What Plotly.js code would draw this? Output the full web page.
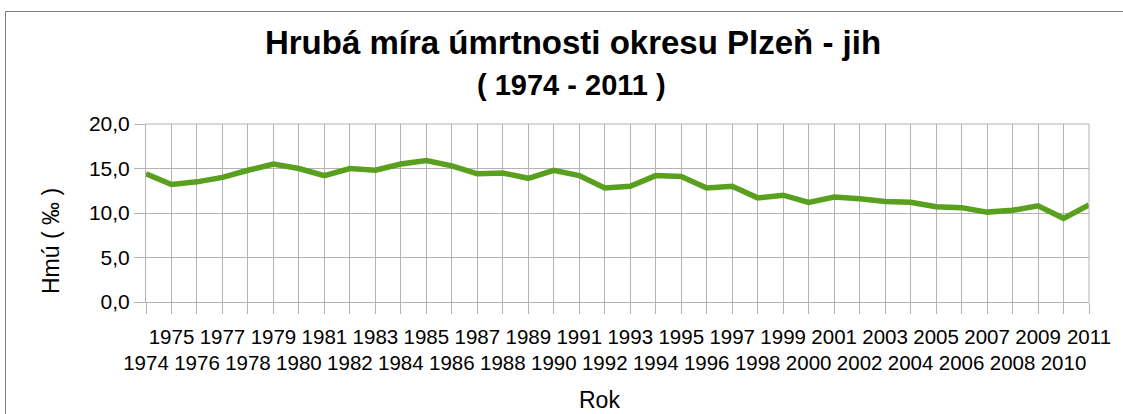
<!DOCTYPE html>
<html>
<head>
<meta charset="utf-8">
<script src="https://cdn.plot.ly/plotly-3.0.1.min.js"></script>
<style>
  html, body { margin: 0; padding: 0; background: #ffffff; }
  #chart { width: 1123px; height: 414px; }
</style>
</head>
<body>
<div id="chart"></div>
<script>
// Data
const years = [1974, 1975, 1976, 1977, 1978, 1979, 1980, 1981, 1982, 1983,
               1984, 1985, 1986, 1987, 1988, 1989, 1990, 1991, 1992, 1993,
               1994, 1995, 1996, 1997, 1998, 1999, 2000, 2001, 2002, 2003,
               2004, 2005, 2006, 2007, 2008, 2009, 2010, 2011];
const mortality = [14.4, 13.2, 13.5, 14.0, 14.8, 15.5, 15.0, 14.2, 15.0, 14.8,
                   15.5, 15.9, 15.3, 14.4, 14.5, 13.9, 14.8, 14.2, 12.8, 13.0,
                   14.2, 14.1, 12.8, 13.0, 11.7, 12.0, 11.2, 11.8, 11.6, 11.3,
                   11.2, 10.7, 10.6, 10.1, 10.3, 10.8, 9.4, 10.9];
const yTicks = [0, 5, 10, 15, 20];

const chartTitle = 'Hrubá míra úmrtnosti okresu Plzeň - jih';
const chartSubtitle = '( 1974 - 2011 )';
const xTitle = 'Rok';
const yTitle = 'Hmú ( ‰ )';

// staggered labels: odd years on first row, even years on second row
const tickText = years.map(y => (y % 2 === 1) ? String(y) : '<br>' + y);

const FONT = '"Liberation Sans", Arial, sans-serif';
const GRID = '#b3b3b3';

const trace = {
  x: years,
  y: mortality,
  type: 'scatter',
  mode: 'lines',
  line: { color: '#5aa01f', width: 5.5 },
  hoverinfo: 'x+y'
};

const layout = {
  width: 1123,
  height: 414,
  margin: { l: 146, r: 34, t: 124, b: 112 },
  paper_bgcolor: '#ffffff',
  plot_bgcolor: '#ffffff',
  separators: ', ',
  showlegend: false,
  font: { family: FONT, color: '#000000', size: 20.5 },
  title: {
    text: '<b>' + chartTitle + '</b>',
    font: { family: FONT, size: 33, color: '#000000' },
    xref: 'container', yref: 'container',
    x: 573 / 1123, xanchor: 'center',
    y: 1 - 42 / 414, yanchor: 'middle'
  },
  xaxis: {
    range: [1974, 2011],
    tickmode: 'array',
    tickvals: years,
    ticktext: tickText,
    tickangle: 0,
    showgrid: true,
    gridcolor: GRID,
    gridwidth: 1,
    showline: true,
    linecolor: GRID,
    linewidth: 1,
    ticks: 'outside',
    ticklen: 11,
    tickcolor: GRID,
    ticklabelstandoff: 5,
    tickfont: { family: FONT, size: 20.5, color: '#000000' },
    zeroline: false,
    mirror: false,
    fixedrange: true
  },
  yaxis: {
    range: [0, 20],
    tickmode: 'array',
    tickvals: yTicks,
    tickformat: '.1f',
    showgrid: true,
    gridcolor: GRID,
    gridwidth: 1,
    showline: true,
    linecolor: GRID,
    linewidth: 1,
    ticks: 'outside',
    ticklen: 11,
    tickcolor: GRID,
    tickfont: { family: FONT, size: 21, color: '#000000' },
    zeroline: false,
    fixedrange: true
  },
  annotations: [
    {
      text: '<b>' + chartSubtitle + '</b>',
      xref: 'paper', yref: 'paper',
      x: (571 - 146) / 943, y: (302 - 85) / 178,
      xanchor: 'center', yanchor: 'middle',
      showarrow: false,
      font: { family: FONT, size: 29, color: '#000000' }
    },
    {
      text: xTitle,
      xref: 'paper', yref: 'paper',
      x: (599 - 146) / 943, y: (302 - 400) / 178,
      xanchor: 'center', yanchor: 'middle',
      showarrow: false,
      font: { family: FONT, size: 23, color: '#000000' }
    },
    {
      text: yTitle,
      xref: 'paper', yref: 'paper',
      x: (51 - 146) / 943, y: (302 - 241) / 178,
      xanchor: 'center', yanchor: 'middle',
      textangle: -90,
      showarrow: false,
      font: { family: FONT, size: 23, color: '#000000' }
    }
  ],
  shapes: [
    // top gridline / right edge of the plot area
    { type: 'line', xref: 'paper', yref: 'paper', x0: 0, x1: 1, y0: 1, y1: 1,
      line: { color: GRID, width: 1 } },
    { type: 'line', xref: 'paper', yref: 'paper', x0: 1, x1: 1, y0: 0, y1: 1,
      line: { color: GRID, width: 1 } },
    // outer chart border
    { type: 'rect', xref: 'paper', yref: 'paper',
      x0: (5.5 - 146) / 943, x1: (1130 - 146) / 943,
      y0: (302 - 430) / 178, y1: (302 - 11.5) / 178,
      line: { color: '#7f7f7f', width: 1 }, fillcolor: 'rgba(0,0,0,0)', layer: 'below' }
  ]
};

Plotly.newPlot('chart', [trace], layout, { displayModeBar: false, staticPlot: true });
</script>
</body>
</html>
